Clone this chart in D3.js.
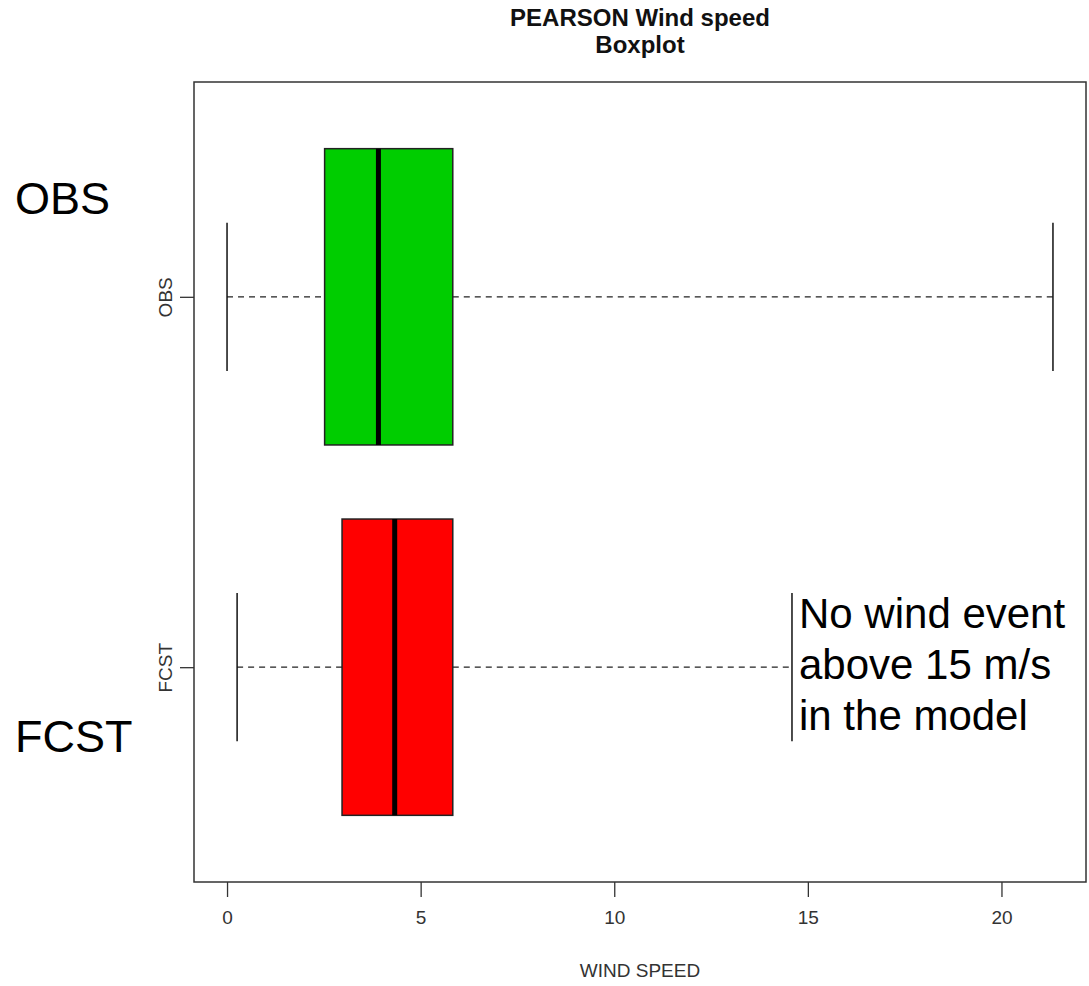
<!DOCTYPE html>
<html>
<head>
<meta charset="utf-8">
<script src="https://cdn.jsdelivr.net/npm/d3@7"></script>
<style>
  body { margin: 0; background: #fff; }
  svg { font-family: "Liberation Sans", Arial, sans-serif; }
</style>
</head>
<body>
<div id="chart"></div>
<script>
const width = 1089, height = 986;

// boxplot stats
const groups = ["OBS", "FCST"];
const positions = [2, 1];
const mins = [0, 0.26];
const q1s = [2.52, 2.97];
const medians = [3.91, 4.33];
const q3s = [5.83, 5.83];
const maxs = [21.33, 14.59];
const fills = ["#00cd00", "#ff0000"];
const xTicks = [0, 5, 10, 15, 20];
const noteLines = ["No wind event", "above 15 m/s", "in the model"];

const rows = groups.map((g, i) => ({
  name: g, pos: positions[i], min: mins[i], q1: q1s[i],
  med: medians[i], q3: q3s[i], max: maxs[i], fill: fills[i]
}));

const margin = {left: 194, right: 3, top: 82, bottom: 104};

// R style 4% padding
const lo = d3.min(mins), hi = d3.max(maxs);
const pad = (hi - lo) * 0.04;
const x = d3.scaleLinear()
  .domain([lo - pad, hi + pad])
  .range([margin.left, width - margin.right]);

const y = d3.scaleLinear()
  .domain([0.42, 2.58])
  .range([height - margin.bottom, margin.top]);

const boxHalf = 0.4, stapleHalf = 0.2;

const svg = d3.select("#chart")
  .append("svg")
  .attr("width", width)
  .attr("height", height);

// title
svg.append("text")
  .attr("x", (margin.left + width - margin.right) / 2)
  .attr("y", 26)
  .attr("text-anchor", "middle")
  .attr("font-weight", "bold")
  .attr("font-size", 24)
  .attr("fill", "#111")
  .text("PEARSON Wind speed");
svg.append("text")
  .attr("x", (margin.left + width - margin.right) / 2)
  .attr("y", 53)
  .attr("text-anchor", "middle")
  .attr("font-weight", "bold")
  .attr("font-size", 24)
  .attr("fill", "#111")
  .text("Boxplot");

// x axis
const xAxis = svg.append("g")
  .attr("transform", `translate(0,${height - margin.bottom})`)
  .call(d3.axisBottom(x).tickValues(xTicks).tickSize(15).tickPadding(14));
xAxis.select(".domain").remove();
xAxis.selectAll("line").attr("stroke", "#333").attr("stroke-width", 1.3);
xAxis.selectAll("text")
  .attr("font-size", 19)
  .attr("font-family", "Liberation Sans, Arial, sans-serif")
  .attr("fill", "#333");

svg.append("text")
  .attr("x", (margin.left + width - margin.right) / 2)
  .attr("y", 977)
  .attr("text-anchor", "middle")
  .attr("font-size", 19)
  .attr("fill", "#333")
  .text("WIND SPEED");

// y axis
const yAxis = svg.append("g")
  .attr("transform", `translate(${margin.left},0)`)
  .call(d3.axisLeft(y).tickValues(positions).tickSize(14)
    .tickFormat((d, i) => groups[i]));
yAxis.select(".domain").remove();
yAxis.selectAll("line").attr("stroke", "#333").attr("stroke-width", 1.3);
yAxis.selectAll("text")
  .attr("font-size", 19)
  .attr("font-family", "Liberation Sans, Arial, sans-serif")
  .attr("fill", "#333")
  .attr("text-anchor", "middle")
  .attr("x", 0)
  .attr("dy", null)
  .attr("transform", "translate(-27,0) rotate(-90)")
  .attr("dominant-baseline", "middle");

// frame
svg.append("rect")
  .attr("x", margin.left)
  .attr("y", margin.top)
  .attr("width", width - margin.left - margin.right)
  .attr("height", height - margin.top - margin.bottom)
  .attr("fill", "none")
  .attr("stroke", "#333")
  .attr("stroke-width", 1.5);

const g = svg.append("g");
const box = g.selectAll("g.box").data(rows).join("g").attr("class", "box");

// dashed whiskers
box.append("line")
  .attr("x1", d => x(d.min)).attr("x2", d => x(d.q1))
  .attr("y1", d => y(d.pos)).attr("y2", d => y(d.pos))
  .attr("stroke", "#222").attr("stroke-width", 1.3)
  .attr("stroke-dasharray", "6,5");
box.append("line")
  .attr("x1", d => x(d.q3)).attr("x2", d => x(d.max))
  .attr("y1", d => y(d.pos)).attr("y2", d => y(d.pos))
  .attr("stroke", "#222").attr("stroke-width", 1.3)
  .attr("stroke-dasharray", "6,5");

// staples
["min", "max"].forEach(k => {
  box.append("line")
    .attr("x1", d => x(d[k])).attr("x2", d => x(d[k]))
    .attr("y1", d => y(d.pos + stapleHalf)).attr("y2", d => y(d.pos - stapleHalf))
    .attr("stroke", "#111").attr("stroke-width", 1.5);
});

// boxes
box.append("rect")
  .attr("x", d => x(d.q1))
  .attr("width", d => x(d.q3) - x(d.q1))
  .attr("y", d => y(d.pos + boxHalf))
  .attr("height", d => y(d.pos - boxHalf) - y(d.pos + boxHalf))
  .attr("fill", d => d.fill)
  .attr("stroke", "#222")
  .attr("stroke-width", 1.5);

// medians
box.append("line")
  .attr("x1", d => x(d.med)).attr("x2", d => x(d.med))
  .attr("y1", d => y(d.pos + boxHalf)).attr("y2", d => y(d.pos - boxHalf))
  .attr("stroke", "#000").attr("stroke-width", 5);

// big overlay labels
svg.append("text")
  .attr("x", 15).attr("y", 214)
  .attr("font-size", 45)
  .attr("fill", "#000")
  .text("OBS");
svg.append("text")
  .attr("x", 15).attr("y", 752)
  .attr("font-size", 45)
  .attr("fill", "#000")
  .text("FCST");

// annotation next to FCST max
svg.append("g")
  .selectAll("text")
  .data(noteLines)
  .join("text")
  .attr("x", 799)
  .attr("y", (d, i) => 628 + i * 51)
  .attr("font-size", 42)
  .attr("fill", "#000")
  .text(d => d);
</script>
</body>
</html>
